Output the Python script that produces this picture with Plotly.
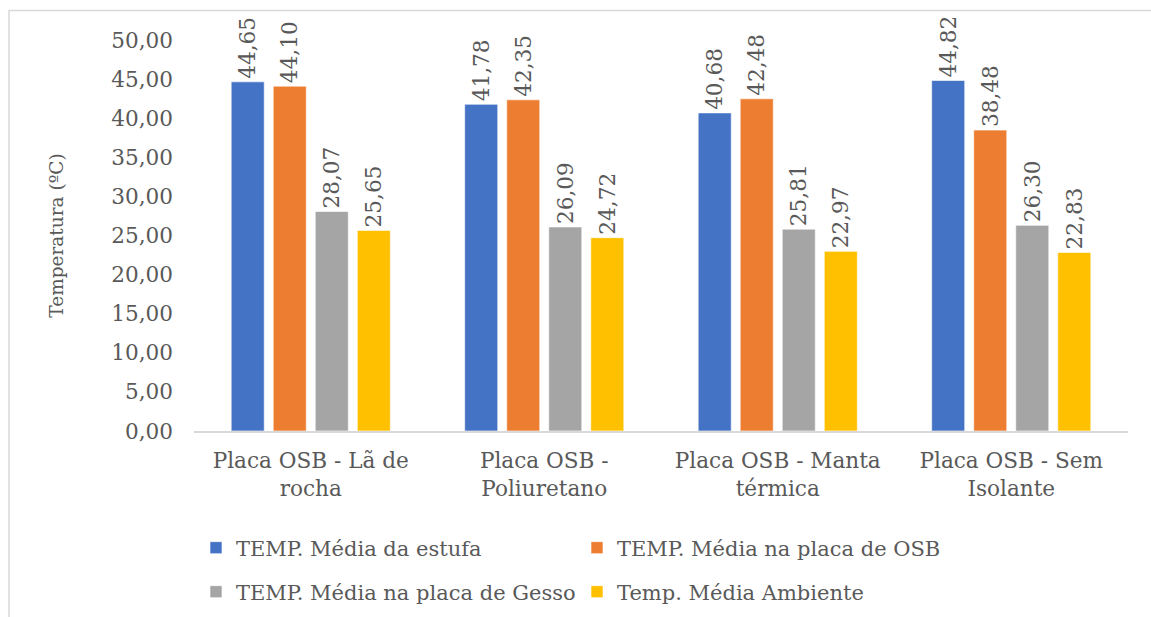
import plotly.graph_objects as go

# Categories (two-line tick labels) and mean temperatures (ºC) per series
categories = [
    "Placa OSB - Lã de<br>rocha",
    "Placa OSB -<br>Poliuretano",
    "Placa OSB - Manta<br>térmica",
    "Placa OSB - Sem<br>Isolante",
]
temp_estufa = [44.65, 41.78, 40.68, 44.82]
temp_placa_osb = [44.10, 42.35, 42.48, 38.48]
temp_placa_gesso = [28.07, 26.09, 25.81, 26.30]
temp_ambiente = [25.65, 24.72, 22.97, 22.83]

series_names = [
    "TEMP. Média da estufa",
    "TEMP. Média na placa de OSB",
    "TEMP. Média na placa de Gesso",
    "Temp. Média Ambiente",
]
series_values = [temp_estufa, temp_placa_osb, temp_placa_gesso, temp_ambiente]
series_colors = ["#4472C4", "#ED7D31", "#A5A5A5", "#FFC000"]
series_legends = ["legend", "legend", "legend2", "legend2"]

FONT = "'DejaVu Serif', serif"
FS = 21.6
TEXT_COLOR = "#595959"

W, H = 1151, 617
M_L, M_R, M_T, M_B = 194, 23, 40, 186
PW, PH = W - M_L - M_R, H - M_T - M_B


def px_x(x):
    return (x - M_L) / PW


def px_y(y):
    return (H - M_B - y) / PH


fig = go.Figure()
for name, vals, color, leg in zip(series_names, series_values, series_colors, series_legends):
    fig.add_trace(go.Bar(
        name=name,
        x=categories,
        y=vals,
        marker=dict(color=color, line=dict(color="white", width=0.6)),
        texttemplate="%{y:.2f}",
        textposition="outside",
        textangle=-90,
        constraintext="none",
        cliponaxis=False,
        textfont=dict(family=FONT, size=FS, color=TEXT_COLOR),
        legend=leg,
    ))

legend_common = dict(
    orientation="h",
    xanchor="left",
    yanchor="middle",
    entrywidth=336,
    entrywidthmode="pixels",
    font=dict(family=FONT, size=21, color=TEXT_COLOR),
    bgcolor="rgba(0,0,0,0)",
    traceorder="normal",
)

fig.update_layout(
    width=W,
    height=H,
    margin=dict(l=M_L, r=M_R, t=M_T, b=M_B, autoexpand=False),
    paper_bgcolor="white",
    plot_bgcolor="white",
    separators=",.",
    barmode="group",
    bargap=0.28,
    bargroupgap=0.214,
    font=dict(family=FONT, size=FS, color=TEXT_COLOR),
    legend=dict(x=px_x(196), y=px_y(548), **legend_common),
    legend2=dict(x=px_x(196), y=px_y(592), **legend_common),
    xaxis=dict(
        showline=True,
        linecolor="#D9D9D9",
        linewidth=1.5,
        ticks="",
        showgrid=False,
        tickangle=0,
        tickfont=dict(family=FONT, size=FS, color=TEXT_COLOR),
        ticklabelstandoff=9,
    ),
    yaxis=dict(
        range=[0, 50],
        dtick=5,
        tickformat=".2f",
        showgrid=False,
        zeroline=False,
        showline=False,
        ticks="",
        tickfont=dict(family=FONT, size=FS, color=TEXT_COLOR),
        ticklabelstandoff=20,
        title=dict(
            text="Temperatura (ºC)",
            font=dict(family=FONT, size=18.5, color=TEXT_COLOR),
            standoff=42,
        ),
    ),
    shapes=[
        dict(
            type="rect",
            xref="paper",
            yref="paper",
            x0=px_x(9),
            x1=px_x(W + 20),
            y0=px_y(H + 20),
            y1=px_y(10.5),
            line=dict(color="#D9D9D9", width=1.5),
            fillcolor="rgba(0,0,0,0)",
            layer="below",
        )
    ],
)

fig.write_html("out.html")
